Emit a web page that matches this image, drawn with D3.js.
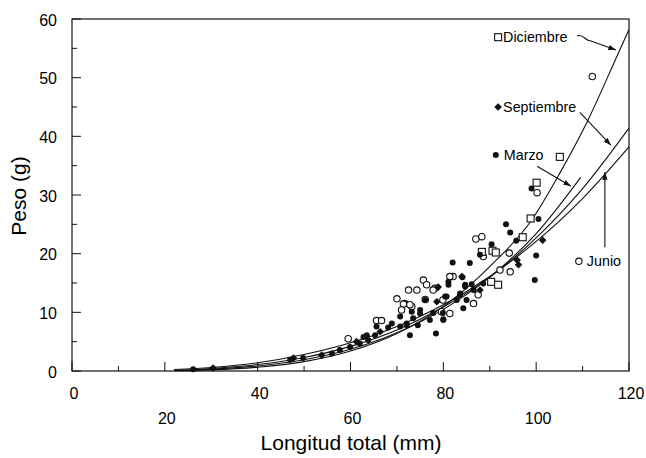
<!DOCTYPE html>
<html>
<head>
<meta charset="utf-8">
<script src="https://cdn.jsdelivr.net/npm/d3@7"></script>
<style>
  body { margin: 0; background: #fff; }
  svg { font-family: "Liberation Sans", Arial, sans-serif; }
</style>
</head>
<body>
<svg id="canvas" width="646" height="458"></svg>
<script>
// fitted curves: [longitud, peso]
let curveDic = [[22,0.05],[30,0.2],[40,0.65],[50,1.6],[60,3.4],[70,6.4],[80,11],[90,17.8],[99,25.7],[105,33.6],[111,42.5],[117.6,54],[120,58.2]]
let curveSep = [[22,0.1],[30,0.43],[40,1.1],[50,2.3],[60,4.2],[70,7],[80,10.9],[90,16],[100,22.7],[110,31.1],[120,41.4]]
let curveJun = [[22,0.25],[30,0.6],[40,1.4],[50,2.8],[60,4.8],[70,7.6],[80,11.3],[90,16.1],[100,22.1],[110,29.4],[120,38.2]]
let curveMar = [[22,0.08],[30,0.31],[40,0.86],[50,1.93],[60,3.7],[70,6.5],[80,10.5],[90,16],[100,23.4],[109.6,33]]

// observations
let ptsJunio = [[112.1,50.2],[100.2,30.4],[87,22.5],[88.3,22.9],[94.2,20.1],[88.6,19.5],[92.2,17.2],[94.4,16.9],
  [82.1,16.1],[78.2,14.1],[86.5,11.5],[87.5,13],[81.4,9.8],[75.7,15.5],[76.4,14.7],[72.5,13.8],[74.3,13.8],
  [77.8,13.8],[71.7,11.5],[73.2,11],[76.1,12.2],[81.4,16.1],[70,12.3],[71.4,11.4],[72.8,11.3],[71,10.4],
  [65.6,8.6],[66.7,8.6],[59.5,5.5],[79.9,12.1],[79.6,10.1]]
let ptsDic = [[105.1,36.5],[100.1,32.1],[98.8,26],[97.1,22.8],[90.6,20.5],[91.3,20.2],[88.3,20.3],[90.3,15.2],[91.8,14.7]]
let ptsSep = [[101.4,22.3],[95.9,18.9],[96.2,18.1],[78.9,14.3],[87.9,13.8],[84,16.1],[78.6,11.8],[66.4,6.7],
  [61.3,5],[53.8,2.7],[47.7,2.2],[30.4,0.5]]
let ptsMarzo = [[99,31.1],[100.5,25.9],[93.5,25],[94.4,23.6],[90.4,21.6],[95.7,22.2],[100,19.7],[87.9,19.8],
  [82,18.5],[85.7,18.4],[99.7,15.5],[84.1,16],[81.1,15.2],[84.7,14.7],[80.4,12.7],[84.3,10.7],[80,8.8],
  [78.4,6.4],[86.5,13.8],[83.6,13],[81.1,14.7],[84.7,14.4],[80.7,12.7],[83.6,13.2],[82.9,12.1],[85,12.1],
  [80,8.7],[77.1,8.7],[75,9.8],[73.5,9],[72.1,7.8],[88.6,14.9],[86.1,14.8],[79.9,9.9],[77.8,9.9],[74.5,7.8],
  [72.8,6.1],[76.1,12.1],[75,10.4],[73.2,10.1],[70.7,9.3],[72.1,8.1],[70.7,7.6],[68.9,8.1],[68.1,7.4],
  [65.3,6.1],[63.8,5.3],[62.8,5.8],[59.9,4.1],[63.5,6.1],[62,4.7],[57.7,3.6],[56,3],[49.8,2.2],[47,1.9],
  [26.1,0.3],[65.6,7.6]]

// labels: marker position, text, arrow from -> to (data units)
let labels = [
  {name: "Diciembre", sym: "square", at: [91.8,56.9], from: [108.8,57.1], to: [117.2,54.7], wave: true},
  {name: "Septiembre", sym: "diamond", at: [91.8,45.0], from: [109.4,44.1], to: [116.1,38.5]},
  {name: "Marzo", sym: "dot", at: [91.3,36.8], from: [100.2,34.9], to: [107.5,31.5]},
  {name: "Junio", sym: "circle", at: [109.2,18.7], from: [114.8,21.1], to: [114.8,33.9]}
]

let xTicks = [0,20,40,60,80,100,120]
let yTicks = [0,10,20,30,40,50,60]

let canvas = d3.select('#canvas')
let mLeft = 72, mRight = 629, mTop = 19, mBottom = 371

let x = d3.scaleLinear().domain([0,120]).range([mLeft,mRight])
let y = d3.scaleLinear().domain([0,60]).range([mBottom,mTop])

let g = canvas.append('g')

// frame
g.append('rect').attr('x',mLeft).attr('y',mTop).attr('width',mRight-mLeft).attr('height',mBottom-mTop)
  .attr('fill','none').attr('stroke','#111').attr('stroke-width',1.2)

// y ticks, inward
d3.range(0,61,5).forEach(v=>{
  let len = v%10==0 ? 9 : 5
  g.append('line').attr('x1',mLeft).attr('x2',mLeft+len).attr('y1',y(v)).attr('y2',y(v)).attr('stroke','#111')
})
yTicks.forEach(v=>{
  g.append('text').attr('x',mLeft-15).attr('y',y(v)+6.5).attr('text-anchor','end')
    .attr('font-size',16).text(v)
})
// x ticks, inward
d3.range(0,121,10).forEach(v=>{
  let len = v%20==0 ? 9 : 5
  g.append('line').attr('x1',x(v)).attr('x2',x(v)).attr('y1',mBottom).attr('y2',mBottom-len).attr('stroke','#111')
})
xTicks.forEach((v,i)=>{
  g.append('text').attr('x',x(v)+2).attr('y', i%2==0 ? 399 : 424).attr('text-anchor','middle')
    .attr('font-size',16).text(v)
})

g.append('text').attr('x',351).attr('y',450).attr('text-anchor','middle').attr('font-size',21)
  .text('Longitud total (mm)')
g.append('text').attr('transform','translate(26,196) rotate(-90)').attr('text-anchor','middle')
  .attr('font-size',21).text('Peso (g)')

// curves
let line = d3.line().x(d=>x(d[0])).y(d=>y(d[1])).curve(d3.curveMonotoneX)
;[curveDic,curveSep,curveJun,curveMar].forEach(c=>{
  g.append('path').attr('d',line(c)).attr('fill','none').attr('stroke','#111').attr('stroke-width',1.1)
})

// markers
let drawSym = (sel, sym, px, py) => {
  if(sym=="square"){
    sel.append('rect').attr('x',px-3.5).attr('y',py-3.5).attr('width',7).attr('height',7)
      .attr('fill','#fff').attr('stroke','#111').attr('stroke-width',1.1)
  }else if(sym=="diamond"){
    sel.append('path').attr('d',`M${px},${py-3.8}L${px+3.8},${py}L${px},${py+3.8}L${px-3.8},${py}Z`).attr('fill','#111')
  }else if(sym=="dot"){
    sel.append('circle').attr('cx',px).attr('cy',py).attr('r',3).attr('fill','#111')
  }else{
    sel.append('circle').attr('cx',px).attr('cy',py).attr('r',3.2)
      .attr('fill','#fff').attr('stroke','#111').attr('stroke-width',1.1)
  }
}
let pts = g.append('g')
ptsJunio.forEach(d=>drawSym(pts,"circle",x(d[0]),y(d[1])))
ptsDic.forEach(d=>drawSym(pts,"square",x(d[0]),y(d[1])))
ptsMarzo.forEach(d=>drawSym(pts,"dot",x(d[0]),y(d[1])))
ptsSep.forEach(d=>drawSym(pts,"diamond",x(d[0]),y(d[1])))

// labels with arrows
canvas.append('defs').append('marker').attr('id','arr').attr('viewBox','0 0 10 10')
  .attr('refX',10).attr('refY',5).attr('markerWidth',7).attr('markerHeight',7).attr('orient','auto')
  .append('path').attr('d','M0,1.5L10,5L0,8.5Z').attr('fill','#111')

labels.forEach(l=>{
  let px = x(l.at[0]), py = y(l.at[1])
  drawSym(g, l.sym, px, py)
  g.append('text').attr('x',px+ (l.sym=="dot"||l.sym=="circle" ? 8 : 5)).attr('y',py+5)
    .attr('font-size',14.3).text(l.name)
  let x1 = x(l.from[0]), y1 = y(l.from[1]), x2 = x(l.to[0]), y2 = y(l.to[1])
  let d = l.wave ? `M${x1},${y1} C${x1+6},${y1-3} ${x1+8},${y1+5} ${x1+14},${y1+5} L${x2},${y2}` : `M${x1},${y1}L${x2},${y2}`
  g.append('path').attr('d',d).attr('fill','none').attr('stroke','#111').attr('stroke-width',1.1)
    .attr('marker-end','url(#arr)')
})
</script>
</body>
</html>
